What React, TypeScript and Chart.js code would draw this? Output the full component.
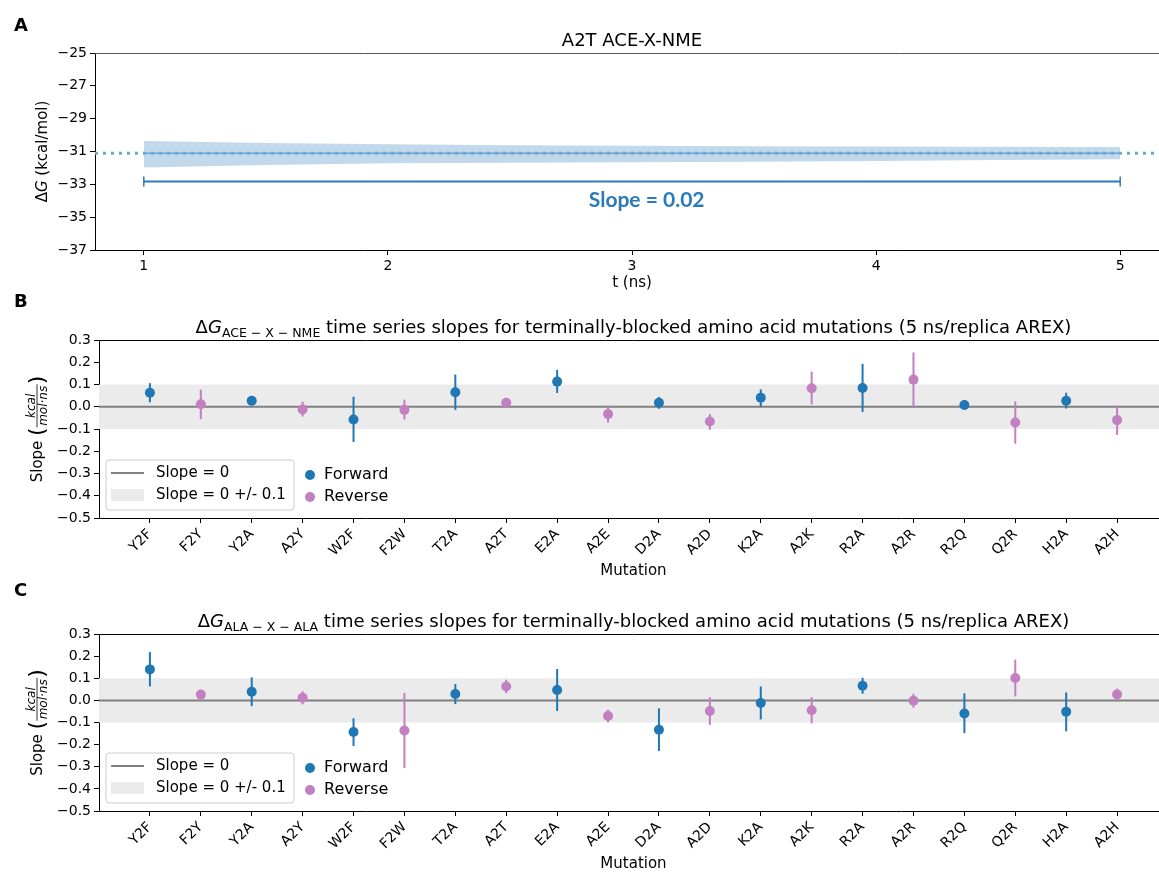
import React, { useEffect, useRef } from 'react';
import { Chart, registerables } from 'chart.js';

Chart.register(...registerables);

const FONT = "'DejaVu Sans', 'Liberation Sans', sans-serif";
const FWD_COLOR = '#1f77b4';
const REV_COLOR = '#c27fc1';
const BAND_COLOR = '#ebebeb';
const ZERO_COLOR = '#808080';

// ---------- Panel A: A2T ACE-X-NME free energy time series ----------
const timeNs = [1, 1.5, 2, 2.5, 3, 3.5, 4, 4.5, 5];
const dgUpper = [-30.36, -30.48, -30.56, -30.62, -30.65, -30.68, -30.7, -30.71, -30.72];
const dgLower = [-31.98, -31.82, -31.72, -31.69, -31.66, -31.62, -31.58, -31.52, -31.47];
const dgMean = [-31.11, -31.11, -31.11, -31.11, -31.11, -31.11, -31.11, -31.11, -31.11];
const dgFinal = -31.11;
const slopeBarY = -32.83;
const slopeBarStart = 1;
const slopeBarEnd = 5;
const slopeValue = 0.02;
const timeTicks = [1, 2, 3, 4, 5];
const dgTicks = [-37, -35, -33, -31, -29, -27, -25];

// ---------- Panels B & C: slopes per mutation ----------
const mutations = ['Y2F', 'F2Y', 'Y2A', 'A2Y', 'W2F', 'F2W', 'T2A', 'A2T', 'E2A', 'A2E', 'D2A', 'A2D', 'K2A', 'A2K', 'R2A', 'A2R', 'R2Q', 'Q2R', 'H2A', 'A2H'];
const forwardMutations = ['Y2F', 'Y2A', 'W2F', 'T2A', 'E2A', 'D2A', 'K2A', 'R2A', 'R2Q', 'H2A'];
const reverseMutations = ['F2Y', 'A2Y', 'F2W', 'A2T', 'A2E', 'A2D', 'A2K', 'A2R', 'Q2R', 'A2H'];

// ACE-X-NME
const aceForwardSlope = [0.063, 0.027, -0.057, 0.065, 0.113, 0.018, 0.041, 0.084, 0.008, 0.027];
const aceForwardLo = [0.02, 0.006, -0.158, -0.014, 0.062, -0.009, 0.0, -0.023, -0.008, -0.008];
const aceForwardHi = [0.106, 0.042, 0.045, 0.145, 0.166, 0.044, 0.078, 0.193, 0.02, 0.063];
const aceReverseSlope = [0.011, -0.012, -0.014, 0.018, -0.033, -0.066, 0.083, 0.122, -0.071, -0.06];
const aceReverseLo = [-0.056, -0.044, -0.057, 0.006, -0.071, -0.103, 0.011, 0.0, -0.166, -0.127];
const aceReverseHi = [0.077, 0.023, 0.032, 0.03, 0.003, -0.033, 0.158, 0.244, 0.024, 0.005];

// ALA-X-ALA
const alaForwardSlope = [0.14, 0.039, -0.143, 0.029, 0.047, -0.133, -0.012, 0.066, -0.059, -0.051];
const alaForwardLo = [0.063, -0.026, -0.206, -0.017, -0.048, -0.229, -0.086, 0.03, -0.148, -0.14];
const alaForwardHi = [0.218, 0.104, -0.081, 0.074, 0.142, -0.036, 0.063, 0.102, 0.032, 0.036];
const alaReverseSlope = [0.026, 0.012, -0.136, 0.063, -0.071, -0.048, -0.045, -0.002, 0.101, 0.027];
const alaReverseLo = [0.012, -0.018, -0.306, 0.033, -0.099, -0.111, -0.104, -0.033, 0.018, 0.003];
const alaReverseHi = [0.038, 0.041, 0.033, 0.093, -0.042, 0.014, 0.014, 0.03, 0.184, 0.053];

const slopeTicks = [-0.5, -0.4, -0.3, -0.2, -0.1, 0, 0.1, 0.2, 0.3];
const bandHalfWidth = 0.1;
const zeroSlope = 0;

type Run = { t: string; f: string; dy?: number };

function runsWidth(ctx: CanvasRenderingContext2D, runs: Run[]) {
  let w = 0;
  for (const r of runs) {
    ctx.font = r.f;
    w += ctx.measureText(r.t).width;
  }
  return w;
}

function drawRuns(ctx: CanvasRenderingContext2D, runs: Run[], x: number, y: number, align: 'left' | 'center') {
  let cx = align === 'center' ? x - runsWidth(ctx, runs) / 2 : x;
  ctx.textAlign = 'left';
  ctx.textBaseline = 'alphabetic';
  for (const r of runs) {
    ctx.font = r.f;
    ctx.fillText(r.t, cx, y + (r.dy || 0));
    cx += ctx.measureText(r.t).width;
  }
}

const minus = (v: number, d: number) => v.toFixed(d).replace('-', '\u2212');

function axisCommon() {
  return {
    grid: { display: true, drawOnChartArea: false, drawTicks: true, tickLength: 5, tickColor: '#000', lineWidth: 1 },
    border: { display: true, color: '#000', width: 1 },
  };
}

function buildPanelA(canvas: HTMLCanvasElement) {
  const plugin = {
    id: 'panelA',
    afterDraw(chart: any) {
      const { ctx, chartArea: ca, scales } = chart;
      const x = scales.x;
      const y = scales.y;
      ctx.save();
      ctx.strokeStyle = '#555';
      ctx.lineWidth = 1;
      ctx.beginPath();
      ctx.moveTo(ca.left, ca.top + 0.5);
      ctx.lineTo(ca.right, ca.top + 0.5);
      ctx.stroke();
      ctx.fillStyle = '#000';
      const cxm = (ca.left + ca.right) / 2;
      drawRuns(ctx, [{ t: 'A2T ACE-X-NME', f: `18px ${FONT}` }], cxm, ca.top - 7, 'center');
      drawRuns(ctx, [{ t: 't (ns)', f: `15px ${FONT}` }], cxm, ca.bottom + 37, 'center');
      ctx.save();
      ctx.translate(47, (ca.top + ca.bottom) / 2);
      ctx.rotate(-Math.PI / 2);
      drawRuns(ctx, [
        { t: '\u0394', f: `15px ${FONT}` },
        { t: 'G', f: `italic 15px ${FONT}` },
        { t: ' (kcal/mol)', f: `15px ${FONT}` },
      ], 0, 0, 'center');
      ctx.restore();
      ctx.font = `bold 18px ${FONT}`;
      ctx.textAlign = 'left';
      ctx.textBaseline = 'alphabetic';
      ctx.fillText('A', 14, 31);
      ctx.fillStyle = '#2b7bba';
      ctx.font = `bold 21px Lato, 'Open Sans', sans-serif`;
      ctx.textAlign = 'center';
      ctx.textBaseline = 'middle';
      ctx.fillText(`Slope = ${slopeValue.toFixed(2)}`, x.getPixelForValue(3.06), y.getPixelForValue(-33.95));
      ctx.restore();
    },
  };

  return new Chart(canvas, {
    type: 'scatter',
    data: {
      datasets: [
        {
          label: 'slope span',
          data: [{ x: slopeBarStart, y: slopeBarY }, { x: slopeBarEnd, y: slopeBarY }],
          showLine: true,
          borderColor: '#2c7bb6',
          borderWidth: 2,
          pointStyle: 'line',
          pointRotation: 90,
          pointRadius: 5,
          pointBorderWidth: 1.5,
          pointBorderColor: '#2c7bb6',
          order: 0,
        },
        {
          label: 'final',
          data: [{ x: 0.8, y: dgFinal }, { x: 5.2, y: dgFinal }],
          showLine: true,
          borderColor: '#6aa7d6',
          borderWidth: 3,
          borderDash: [3, 5],
          pointRadius: 0,
          order: 1,
        },
        {
          label: 'mean',
          data: timeNs.map((t, i) => ({ x: t, y: dgMean[i] })),
          showLine: true,
          borderColor: '#6ba3d0',
          borderWidth: 1.5,
          pointRadius: 0,
          order: 2,
        },
        {
          label: 'upper',
          data: timeNs.map((t, i) => ({ x: t, y: dgUpper[i] })),
          showLine: true,
          borderColor: 'rgba(0,0,0,0)',
          borderWidth: 1,
          pointRadius: 0,
          fill: '+1',
          backgroundColor: 'rgba(31,119,180,0.28)',
          order: 3,
        },
        {
          label: 'lower',
          data: timeNs.map((t, i) => ({ x: t, y: dgLower[i] })),
          showLine: true,
          borderColor: 'rgba(0,0,0,0)',
          borderWidth: 1,
          pointRadius: 0,
          order: 4,
        },
      ],
    } as any,
    options: {
      animation: false,
      responsive: false,
      devicePixelRatio: 1,
      events: [],
      layout: { padding: { top: 53, left: 0, right: 31, bottom: 0 } },
      plugins: { legend: { display: false }, tooltip: { enabled: false } },
      scales: {
        x: {
          type: 'linear',
          min: 0.8,
          max: 5.2,
          ...axisCommon(),
          afterBuildTicks: (s: any) => { s.ticks = timeTicks.map((v) => ({ value: v })); },
          afterFit: (s: any) => { s.height = 40; },
          ticks: { font: { family: FONT, size: 14 }, color: '#000', padding: 3, minRotation: 0, maxRotation: 0, callback: (v: any) => String(v) },
        },
        y: {
          type: 'linear',
          min: -37,
          max: -25,
          ...axisCommon(),
          afterBuildTicks: (s: any) => { s.ticks = dgTicks.map((v) => ({ value: v })); },
          afterFit: (s: any) => { s.width = 95; },
          ticks: { font: { family: FONT, size: 14 }, color: '#000', padding: 3, callback: (v: any) => minus(Number(v), 0) },
        },
      },
    } as any,
    plugins: [plugin as any],
  });
}

type SlopeSet = { slope: number[]; lo: number[]; hi: number[] };

function buildSlopePanel(
  canvas: HTMLCanvasElement,
  cfg: { letter: string; letterY: number; sub: string; padTop: number; xHeight: number; fwd: SlopeSet; rev: SlopeSet },
) {
  const fwdX = forwardMutations.map((m) => mutations.indexOf(m));
  const revX = reverseMutations.map((m) => mutations.indexOf(m));
  const errors: Record<string, { xs: number[]; lo: number[]; hi: number[]; color: string }> = {
    Forward: { xs: fwdX, lo: cfg.fwd.lo, hi: cfg.fwd.hi, color: FWD_COLOR },
    Reverse: { xs: revX, lo: cfg.rev.lo, hi: cfg.rev.hi, color: REV_COLOR },
  };

  const plugin = {
    id: 'slopeDecor' + cfg.letter,
    beforeDatasetDraw(chart: any, args: any) {
      const ds = chart.data.datasets[args.index];
      const e = errors[ds.label];
      if (!e) return;
      const { ctx, scales } = chart;
      ctx.save();
      ctx.strokeStyle = e.color;
      ctx.lineWidth = 2;
      e.xs.forEach((xv, i) => {
        const px = scales.x.getPixelForValue(xv);
        ctx.beginPath();
        ctx.moveTo(px, scales.y.getPixelForValue(e.lo[i]));
        ctx.lineTo(px, scales.y.getPixelForValue(e.hi[i]));
        ctx.stroke();
      });
      ctx.restore();
    },
    afterDraw(chart: any) {
      const { ctx, chartArea: ca } = chart;
      ctx.save();
      ctx.strokeStyle = '#000';
      ctx.lineWidth = 1;
      ctx.beginPath();
      ctx.moveTo(ca.left, ca.top + 0.5);
      ctx.lineTo(ca.right, ca.top + 0.5);
      ctx.stroke();
      ctx.fillStyle = '#000';
      const cxm = (ca.left + ca.right) / 2;
      drawRuns(ctx, [
        { t: '\u0394', f: `18px ${FONT}` },
        { t: 'G', f: `italic 18px ${FONT}` },
        { t: cfg.sub, f: `12.5px ${FONT}`, dy: 3.5 },
        { t: ' time series slopes for terminally-blocked amino acid mutations (5 ns/replica AREX)', f: `18px ${FONT}` },
      ], cxm, ca.top - 7, 'center');
      drawRuns(ctx, [{ t: 'Mutation', f: `15px ${FONT}` }], cxm, ca.bottom + 57, 'center');

      // y label with fraction
      ctx.save();
      ctx.translate(42, (ca.top + ca.bottom) / 2);
      ctx.rotate(-Math.PI / 2);
      const fMain = `15px ${FONT}`;
      const fSmall = `italic 12px ${FONT}`;
      const fParen = `22px ${FONT}`;
      ctx.textAlign = 'left';
      ctx.textBaseline = 'alphabetic';
      ctx.font = fMain;
      const wSlope = ctx.measureText('Slope ').width;
      ctx.font = fParen;
      const wL = ctx.measureText('(').width;
      const wR = ctx.measureText(')').width;
      ctx.font = fSmall;
      const wNum = ctx.measureText('kcal').width;
      const wDen = ctx.measureText('mol\u00b7ns').width;
      const fracW = Math.max(wNum, wDen) + 3;
      let x0 = -(wSlope + wL + fracW + wR) / 2;
      ctx.font = fMain;
      ctx.fillText('Slope ', x0, 0);
      x0 += wSlope;
      ctx.font = fParen;
      ctx.fillText('(', x0, 2);
      x0 += wL;
      const axisY = -5;
      ctx.fillRect(x0, axisY - 0.4, fracW, 0.8);
      ctx.font = fSmall;
      ctx.fillText('kcal', x0 + (fracW - wNum) / 2, axisY - 2.5);
      ctx.fillText('mol\u00b7ns', x0 + (fracW - wDen) / 2, axisY + 9.5);
      x0 += fracW;
      ctx.font = fParen;
      ctx.fillText(')', x0, 2);
      ctx.restore();

      // panel letter
      ctx.font = `bold 18px ${FONT}`;
      ctx.textAlign = 'left';
      ctx.textBaseline = 'alphabetic';
      ctx.fillText(cfg.letter, 14, cfg.letterY);

      // legend 1 (framed)
      const bx = ca.left + 7;
      const bh = 50;
      const by = ca.bottom - 8 - bh;
      const bw = 188;
      const r = 3;
      ctx.beginPath();
      ctx.moveTo(bx + r, by);
      ctx.lineTo(bx + bw - r, by);
      ctx.arcTo(bx + bw, by, bx + bw, by + r, r);
      ctx.lineTo(bx + bw, by + bh - r);
      ctx.arcTo(bx + bw, by + bh, bx + bw - r, by + bh, r);
      ctx.lineTo(bx + r, by + bh);
      ctx.arcTo(bx, by + bh, bx, by + bh - r, r);
      ctx.lineTo(bx, by + r);
      ctx.arcTo(bx, by, bx + r, by, r);
      ctx.closePath();
      ctx.fillStyle = 'rgba(255,255,255,0.8)';
      ctx.fill();
      ctx.strokeStyle = '#cccccc';
      ctx.lineWidth = 1;
      ctx.stroke();
      ctx.strokeStyle = ZERO_COLOR;
      ctx.lineWidth = 2;
      ctx.beginPath();
      ctx.moveTo(ca.left + 12, by + 13);
      ctx.lineTo(ca.left + 45, by + 13);
      ctx.stroke();
      ctx.fillStyle = BAND_COLOR;
      ctx.fillRect(ca.left + 12, by + 29, 33, 12);
      ctx.fillStyle = '#000';
      ctx.font = `15px ${FONT}`;
      ctx.textBaseline = 'middle';
      ctx.fillText('Slope = 0', ca.left + 57, by + 13);
      ctx.fillText('Slope = 0 +/- 0.1', ca.left + 57, by + 35);

      // legend 2 (markers)
      ctx.font = `16px ${FONT}`;
      const items: [string, string, number][] = [['Forward', FWD_COLOR, by + 15], ['Reverse', REV_COLOR, by + 37]];
      for (const [name, col, yy] of items) {
        ctx.fillStyle = col;
        ctx.beginPath();
        ctx.arc(ca.left + 211, yy, 5, 0, Math.PI * 2);
        ctx.fill();
        ctx.fillStyle = '#000';
        ctx.fillText(name, ca.left + 225, yy);
      }
      ctx.restore();
    },
  };

  return new Chart(canvas, {
    type: 'scatter',
    data: {
      datasets: [
        {
          label: 'Forward',
          data: fwdX.map((x, i) => ({ x, y: cfg.fwd.slope[i] })),
          pointRadius: 5,
          pointBackgroundColor: FWD_COLOR,
          pointBorderColor: FWD_COLOR,
          pointBorderWidth: 0,
          showLine: false,
          order: 0,
        },
        {
          label: 'Reverse',
          data: revX.map((x, i) => ({ x, y: cfg.rev.slope[i] })),
          pointRadius: 5,
          pointBackgroundColor: REV_COLOR,
          pointBorderColor: REV_COLOR,
          pointBorderWidth: 0,
          showLine: false,
          order: 0,
        },
        {
          label: 'Slope = 0',
          data: [{ x: -1, y: zeroSlope }, { x: mutations.length, y: zeroSlope }],
          showLine: true,
          borderColor: ZERO_COLOR,
          borderWidth: 2,
          pointRadius: 0,
          order: 1,
        },
        {
          label: 'Slope = 0 +/- 0.1',
          data: [{ x: -1, y: zeroSlope + bandHalfWidth }, { x: mutations.length, y: zeroSlope + bandHalfWidth }],
          showLine: true,
          borderColor: 'rgba(0,0,0,0)',
          borderWidth: 1,
          pointRadius: 0,
          fill: { value: zeroSlope - bandHalfWidth },
          backgroundColor: BAND_COLOR,
          order: 2,
        },
      ],
    } as any,
    options: {
      animation: false,
      responsive: false,
      devicePixelRatio: 1,
      events: [],
      layout: { padding: { top: cfg.padTop, left: 0, right: 32, bottom: 0 } },
      plugins: { legend: { display: false }, tooltip: { enabled: false } },
      scales: {
        x: {
          type: 'linear',
          min: -1,
          max: mutations.length,
          ...axisCommon(),
          afterBuildTicks: (s: any) => { s.ticks = mutations.map((_, i) => ({ value: i })); },
          afterFit: (s: any) => { s.height = cfg.xHeight; },
          ticks: {
            font: { family: FONT, size: 14 },
            color: '#000',
            padding: 3,
            minRotation: 45,
            maxRotation: 45,
            autoSkip: false,
            callback: (v: any) => mutations[Number(v)] ?? '',
          },
        },
        y: {
          type: 'linear',
          min: -0.5,
          max: 0.3,
          ...axisCommon(),
          afterBuildTicks: (s: any) => { s.ticks = slopeTicks.map((v) => ({ value: v })); },
          afterFit: (s: any) => { s.width = 99; },
          ticks: { font: { family: FONT, size: 14 }, color: '#000', padding: 3, callback: (v: any) => minus(Number(v), 1) },
        },
      },
    } as any,
    plugins: [plugin as any],
  });
}

export default function App() {
  const refA = useRef<HTMLCanvasElement>(null);
  const refB = useRef<HTMLCanvasElement>(null);
  const refC = useRef<HTMLCanvasElement>(null);

  useEffect(() => {
    document.body.style.margin = '0';
    const charts = [
      buildPanelA(refA.current!),
      buildSlopePanel(refB.current!, {
        letter: 'B',
        letterY: 17,
        sub: 'ACE \u2212 X \u2212 NME',
        padTop: 50,
        xHeight: 62,
        fwd: { slope: aceForwardSlope, lo: aceForwardLo, hi: aceForwardHi },
        rev: { slope: aceReverseSlope, lo: aceReverseLo, hi: aceReverseHi },
      }),
      buildSlopePanel(refC.current!, {
        letter: 'C',
        letterY: 16,
        sub: 'ALA \u2212 X \u2212 ALA',
        padTop: 54,
        xHeight: 61,
        fwd: { slope: alaForwardSlope, lo: alaForwardLo, hi: alaForwardHi },
        rev: { slope: alaReverseSlope, lo: alaReverseLo, hi: alaReverseHi },
      }),
    ];
    return () => charts.forEach((c) => c.destroy());
  }, []);

  const cv = (top: number, h: number): React.CSSProperties => ({ position: 'absolute', left: 0, top, width: 1200, height: h });

  return (
    <div style={{ position: 'absolute', left: 0, top: 0, width: 1159, height: 872, overflow: 'hidden', background: '#fff' }}>
      <canvas ref={refA} width={1200} height={290} style={cv(0, 290)} />
      <canvas ref={refB} width={1200} height={290} style={cv(290, 290)} />
      <canvas ref={refC} width={1200} height={292} style={cv(580, 292)} />
    </div>
  );
}
